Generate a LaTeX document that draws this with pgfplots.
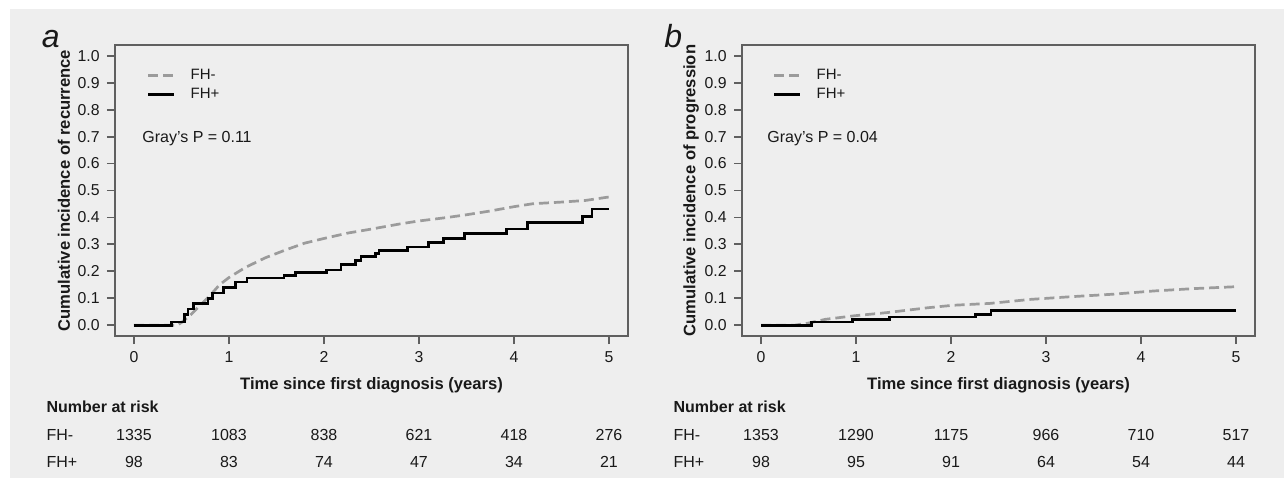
\documentclass[border=0pt]{standalone}
\usepackage{fontspec}
\setmainfont{Liberation Sans}
\usepackage{pgfplots}
\pgfplotsset{compat=1.18}
\definecolor{bg}{RGB}{238,238,238}
\definecolor{axiscol}{RGB}{95,95,95}
\definecolor{fhm}{RGB}{155,155,155}
\definecolor{txt}{RGB}{25,25,25}

\pgfplotsset{
  km/.style={
    scale only axis, width=256.5pt, height=145.5pt,
    xmin=-0.2, xmax=5.2, ymin=-0.04, ymax=1.04,
    xtick={0,1,2,3,4,5},
    ytick={0,0.1,0.2,0.3,0.4,0.5,0.6,0.7,0.8,0.9,1.0},
    yticklabel style={/pgf/number format/fixed, /pgf/number format/fixed zerofill, /pgf/number format/precision=1},
    /pgf/number format/assume math mode=true,
    tick align=outside, xtick pos=bottom, ytick pos=left,
    major tick length=4pt,
    axis line style={draw=axiscol, line width=0.9pt},
    every tick/.style={draw=axiscol, line width=0.9pt},
    tick label style={font=\fontsize{7.9}{9}\selectfont, text=txt},
    yticklabel style={anchor=east, inner sep=0pt, xshift=-3.5pt},
    xticklabel style={anchor=north, inner sep=0pt, yshift=-3.75pt},
    every axis y label/.style={at={(axis description cs:-0.0994,0.5)}, rotate=90, anchor=center,
      font=\bfseries\fontsize{8.3}{9}\selectfont, text=txt},
    every axis x label/.style={at={(axis description cs:0.5,-0.168)}, anchor=center,
      font=\bfseries\fontsize{8.3}{9}\selectfont, text=txt},
    xlabel={Time since first diagnosis (years)},
    clip=false,
    axis background/.style={fill=bg},
    legend style={draw=none, fill=none, anchor=north west, inner sep=0pt, outer sep=0pt,
      font=\fontsize{7.5}{9}\selectfont, text=txt,
      nodes={inner sep=0pt, outer sep=0pt, text height=5.5pt, text depth=1.5pt},
      row sep=2.5pt, column sep=7.5pt, cells={anchor=west}},
    legend image code/.code={\draw[#1] (0pt,0pt) -- (13pt,0pt);},
  },
  fhminus/.style={color=fhm, line width=1.35pt, dash pattern=on 5pt off 2.5pt},
  fhplus/.style={color=black, line width=1.35pt, const plot},
}

\begin{document}
\begin{tikzpicture}
\fill[white] (0,0) rectangle (642pt,239pt);
\fill[bg] (5pt,0) rectangle (642pt,234.5pt);
\useasboundingbox (0,0) rectangle (642pt,239pt);

% ---------------- panel a ----------------
\begin{axis}[km, at={(57.5pt,71pt)}, anchor=south west,
  ylabel={Cumulative incidence of recurrence},
  legend style={at={(axis description cs:0.0624,0.92)}}]
\addplot[fhminus] coordinates {
(0,0) (0.45,0) (0.5,0.01) (0.6,0.04) (0.7,0.075) (0.8,0.11) (0.9,0.15) (1.0,0.177)
(1.17,0.214) (1.38,0.25) (1.6,0.28) (1.8,0.305) (2.0,0.322) (2.25,0.342) (2.5,0.357)
(2.8,0.376) (3.0,0.387) (3.3,0.40) (3.5,0.41) (3.75,0.424) (4.0,0.44) (4.2,0.451)
(4.5,0.457) (4.75,0.463) (5.0,0.476)};
\addlegendentry{FH-}
\addplot[fhplus] coordinates {
(0,0) (0.395,0.012) (0.53,0.04) (0.57,0.06) (0.63,0.08) (0.78,0.10) (0.83,0.12)
(0.94,0.14) (1.07,0.16) (1.19,0.175) (1.58,0.185) (1.70,0.195) (2.03,0.205)
(2.18,0.225) (2.33,0.24) (2.39,0.255) (2.54,0.265) (2.58,0.277) (2.88,0.29)
(3.10,0.306) (3.26,0.322) (3.48,0.34) (3.92,0.357) (4.14,0.38) (4.72,0.404)
(4.82,0.431) (5.0,0.431)};
\addlegendentry{FH+}
\node[anchor=west, inner sep=0pt, font=\fontsize{8}{9}\selectfont, text=txt] at (axis description cs:0.0526,0.680) {Gray's P = 0.11};
\node[anchor=base, font=\itshape\fontsize{16}{16}\selectfont, text=txt] at (axis description cs:-0.125,0.993) {a};
\begin{scope}[every node/.style={font=\fontsize{8}{9}\selectfont, text=txt}]
\node[anchor=west, inner sep=0pt, font=\bfseries\fontsize{8}{9}\selectfont] at (axis cs:-0.924,-0.304) {Number at risk};
\node[anchor=west, inner sep=0pt] at (axis cs:-0.924,-0.407) {FH-};
\node[anchor=west, inner sep=0pt] at (axis cs:-0.924,-0.508) {FH+};
\node at (axis cs:0,-0.407) {1335};
\node at (axis cs:1,-0.407) {1083};
\node at (axis cs:2,-0.407) {838};
\node at (axis cs:3,-0.407) {621};
\node at (axis cs:4,-0.407) {418};
\node at (axis cs:5,-0.407) {276};
\node at (axis cs:0,-0.508) {98};
\node at (axis cs:1,-0.508) {83};
\node at (axis cs:2,-0.508) {74};
\node at (axis cs:3,-0.508) {47};
\node at (axis cs:4,-0.508) {34};
\node at (axis cs:5,-0.508) {21};
\end{scope}
\end{axis}

% ---------------- panel b ----------------
\begin{axis}[km, at={(371pt,71pt)}, anchor=south west,
  ylabel={Cumulative incidence of progression},
  legend style={at={(axis description cs:0.0604,0.92)}}]
\addplot[fhminus] coordinates {
(0,0) (0.35,0) (0.5,0.008) (0.68,0.022) (0.98,0.035) (1.33,0.047) (1.76,0.065)
(2.02,0.074) (2.41,0.081) (2.84,0.096) (3.27,0.106) (3.7,0.115) (4.13,0.127)
(4.56,0.136) (5.0,0.143)};
\addlegendentry{FH-}
\addplot[fhplus] coordinates {
(0,0) (0.53,0.012) (0.96,0.02) (1.35,0.03) (2.26,0.04) (2.42,0.055) (5.0,0.055)};
\addlegendentry{FH+}
\node[anchor=west, inner sep=0pt, font=\fontsize{8}{9}\selectfont, text=txt] at (axis description cs:0.0487,0.680) {Gray's P = 0.04};
\node[anchor=base, font=\itshape\fontsize{16}{16}\selectfont, text=txt] at (axis description cs:-0.134,0.993) {b};
\begin{scope}[every node/.style={font=\fontsize{8}{9}\selectfont, text=txt}]
\node[anchor=west, inner sep=0pt, font=\bfseries\fontsize{8}{9}\selectfont] at (axis cs:-0.924,-0.304) {Number at risk};
\node[anchor=west, inner sep=0pt] at (axis cs:-0.924,-0.407) {FH-};
\node[anchor=west, inner sep=0pt] at (axis cs:-0.924,-0.508) {FH+};
\node at (axis cs:0,-0.407) {1353};
\node at (axis cs:1,-0.407) {1290};
\node at (axis cs:2,-0.407) {1175};
\node at (axis cs:3,-0.407) {966};
\node at (axis cs:4,-0.407) {710};
\node at (axis cs:5,-0.407) {517};
\node at (axis cs:0,-0.508) {98};
\node at (axis cs:1,-0.508) {95};
\node at (axis cs:2,-0.508) {91};
\node at (axis cs:3,-0.508) {64};
\node at (axis cs:4,-0.508) {54};
\node at (axis cs:5,-0.508) {44};
\end{scope}
\end{axis}
\end{tikzpicture}
\end{document}
